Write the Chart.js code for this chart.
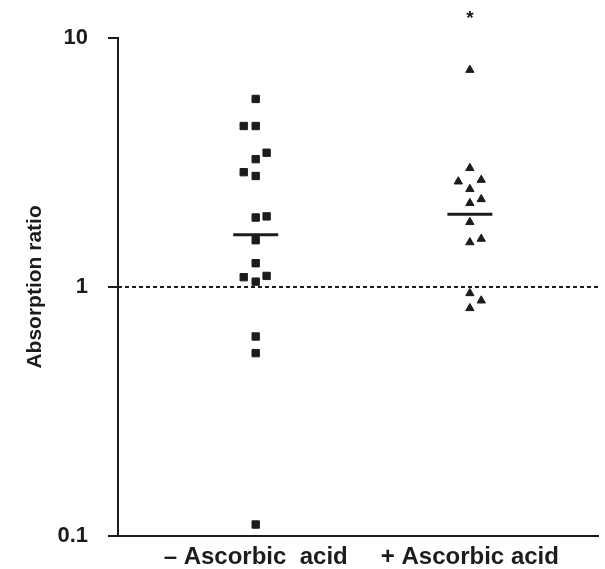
<!DOCTYPE html>
<html>
<head>
<meta charset="utf-8">
<script src="https://cdn.jsdelivr.net/npm/chart.js@4/dist/chart.umd.min.js"></script>
<style>
html,body{margin:0;padding:0;background:#fff;}
#wrap{width:605px;height:569px;}
</style>
</head>
<body>
<div id="wrap"><canvas id="c" width="605" height="569"></canvas></div>
<script>
// ---- data ----
const categories = ['– Ascorbic  acid', '+ Ascorbic acid'];
const yTickValues = [0.1, 1, 10];
const yTickLabels = ['0.1', '1', '10'];
const yTitle = 'Absorption ratio';

const minusValues = [5.69, 4.43, 4.43, 3.46, 3.26, 2.89, 2.79, 1.90, 1.92, 1.54, 1.245, 1.094, 1.107, 1.05, 0.632, 0.542, 0.111];
const minusJitter = [0, -0.056, 0, 0.051, 0, -0.056, 0, 0, 0.051, 0, 0, -0.056, 0.051, 0, 0, 0, 0];
const plusValues = [7.44, 3.00, 2.65, 2.69, 2.47, 2.17, 2.25, 1.82, 1.51, 1.56, 0.943, 0.881, 0.821];
const plusJitter = [0, 0, -0.054, 0.053, 0, 0, 0.053, 0, 0, 0.053, 0, 0.053, 0];
const medians = [1.62, 1.96];
const referenceLevel = 1;
const significanceMark = '*';
const significanceValue = 12.6;
const significanceCategory = 1;

// ---- build ----
const X_MIN = 0.357, X_MAX = 2.602, HALF = 0.105;
const ink = '#1c1c1c';

const ptsMinus = minusValues.map((v, i) => ({x: 1 + minusJitter[i], y: v}));
const ptsPlus = plusValues.map((v, i) => ({x: 2 + plusJitter[i], y: v}));

const datasets = [
  {label: 'ref', data: [{x: X_MIN, y: referenceLevel}, {x: X_MAX, y: referenceLevel}], showLine: true,
   borderColor: ink, borderWidth: 2, borderDash: [4, 3], pointRadius: 0},
  {label: 'minus', data: ptsMinus, pointStyle: 'rect', pointRadius: 5.2, borderWidth: 1,
   backgroundColor: ink, borderColor: ink},
  {label: 'plus', data: ptsPlus, pointStyle: 'triangle', pointRadius: 4.8, borderWidth: 1,
   backgroundColor: ink, borderColor: ink},
];
medians.forEach((m, i) => {
  datasets.push({label: 'median' + i, data: [{x: i + 1 - HALF, y: m}, {x: i + 1 + HALF, y: m}],
    showLine: true, borderColor: ink, borderWidth: 3, pointRadius: 0});
});

const starPlugin = {
  id: 'star',
  afterDatasetsDraw(chart) {
    const {ctx, scales} = chart;
    const size = 19;
    const x = scales.x.getPixelForValue(significanceCategory + 1);
    const y = scales.y.getPixelForValue(significanceValue);
    ctx.save();
    ctx.fillStyle = ink;
    ctx.font = 'bold ' + size + 'px "Liberation Sans", Arial, sans-serif';
    ctx.textAlign = 'center';
    ctx.textBaseline = 'alphabetic';
    ctx.fillText(significanceMark, x, y + size * 0.56);
    ctx.restore();
  }
};

new Chart(document.getElementById('c'), {
  type: 'scatter',
  data: {datasets},
  plugins: [starPlugin],
  options: {
    responsive: false,
    animation: false,
    events: [],
    layout: {padding: {top: 38, right: 5, left: 0, bottom: 0}},
    plugins: {legend: {display: false}, tooltip: {enabled: false}},
    scales: {
      x: {
        type: 'linear', min: X_MIN, max: X_MAX,
        afterBuildTicks: s => { s.ticks = [{value: 1}, {value: 2}]; },
        afterFit: s => { s.height = 33; },
        ticks: {
          callback: (v, i) => categories[i],
          color: ink, padding: 7, maxRotation: 0, autoSkip: false,
          font: {family: '"Liberation Sans", Arial, sans-serif', size: 24, weight: 'bold'}
        },
        grid: {display: false, drawTicks: false},
        border: {display: true, color: ink, width: 2}
      },
      y: {
        type: 'logarithmic', min: 0.1, max: 10,
        afterBuildTicks: s => { s.ticks = yTickValues.map(v => ({value: v})); },
        afterFit: s => { s.width = 118; },
        ticks: {
          callback: (v, i) => yTickLabels[i],
          color: ink, padding: 20, autoSkip: false,
          font: {family: '"Liberation Sans", Arial, sans-serif', size: 22, weight: 'bold'}
        },
        grid: {drawOnChartArea: false, drawTicks: true, tickLength: 10, color: ink, lineWidth: 2},
        border: {display: true, color: ink, width: 2},
        title: {
          display: true, text: yTitle, color: ink, padding: {top: 23, bottom: 0},
          font: {family: '"Liberation Sans", Arial, sans-serif', size: 21, weight: 'bold'}
        }
      }
    }
  }
});
</script>
</body>
</html>
